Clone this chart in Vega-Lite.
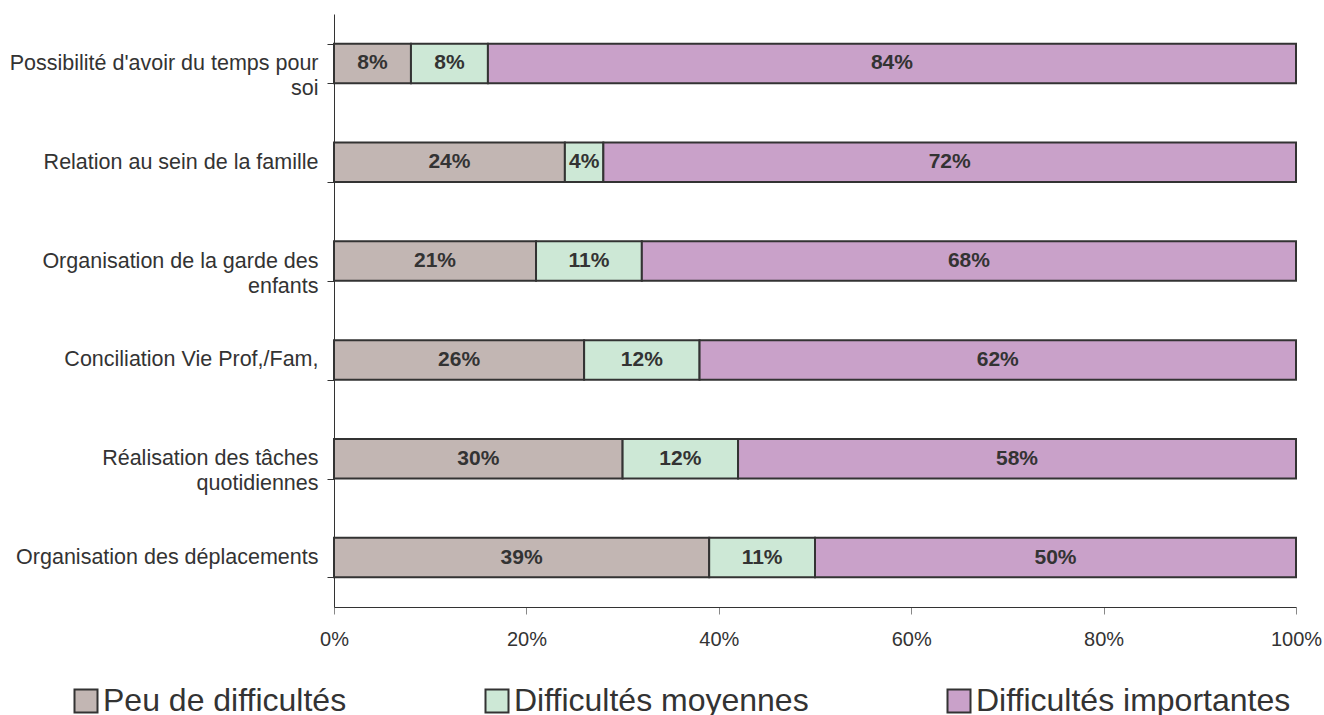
{
  "$schema": "https://vega.github.io/schema/vega-lite/v6.json",
  "width": 962,
  "height": 593,
  "autosize": {"type": "none"},
  "padding": {"left": 334, "top": 14, "right": 28, "bottom": 108},
  "background": "white",
  "config": {"font": "Liberation Sans", "view": {"stroke": null}},
  "data": {
    "values": [
      {"item": "Possibilité d'avoir du temps pour|soi", "level": "Peu de difficultés", "rank": 1, "pct": 0.08},
      {"item": "Possibilité d'avoir du temps pour|soi", "level": "Difficultés moyennes", "rank": 2, "pct": 0.08},
      {"item": "Possibilité d'avoir du temps pour|soi", "level": "Difficultés importantes", "rank": 3, "pct": 0.84},
      {"item": "Relation au sein de la famille", "level": "Peu de difficultés", "rank": 1, "pct": 0.24},
      {"item": "Relation au sein de la famille", "level": "Difficultés moyennes", "rank": 2, "pct": 0.04},
      {"item": "Relation au sein de la famille", "level": "Difficultés importantes", "rank": 3, "pct": 0.72},
      {"item": "Organisation de la garde des|enfants", "level": "Peu de difficultés", "rank": 1, "pct": 0.21},
      {"item": "Organisation de la garde des|enfants", "level": "Difficultés moyennes", "rank": 2, "pct": 0.11},
      {"item": "Organisation de la garde des|enfants", "level": "Difficultés importantes", "rank": 3, "pct": 0.68},
      {"item": "Conciliation Vie Prof,/Fam,", "level": "Peu de difficultés", "rank": 1, "pct": 0.26},
      {"item": "Conciliation Vie Prof,/Fam,", "level": "Difficultés moyennes", "rank": 2, "pct": 0.12},
      {"item": "Conciliation Vie Prof,/Fam,", "level": "Difficultés importantes", "rank": 3, "pct": 0.62},
      {"item": "Réalisation des tâches|quotidiennes", "level": "Peu de difficultés", "rank": 1, "pct": 0.30},
      {"item": "Réalisation des tâches|quotidiennes", "level": "Difficultés moyennes", "rank": 2, "pct": 0.12},
      {"item": "Réalisation des tâches|quotidiennes", "level": "Difficultés importantes", "rank": 3, "pct": 0.58},
      {"item": "Organisation des déplacements", "level": "Peu de difficultés", "rank": 1, "pct": 0.39},
      {"item": "Organisation des déplacements", "level": "Difficultés moyennes", "rank": 2, "pct": 0.11},
      {"item": "Organisation des déplacements", "level": "Difficultés importantes", "rank": 3, "pct": 0.50}
    ]
  },
  "transform": [
    {"stack": "pct", "groupby": ["item"], "sort": [{"field": "rank", "order": "ascending"}], "as": ["x0", "x1"]},
    {"calculate": "(datum.x0 + datum.x1) / 2", "as": "xm"}
  ],
  "encoding": {
    "y": {
      "field": "item",
      "type": "nominal",
      "title": null,
      "sort": [
        "Possibilité d'avoir du temps pour|soi",
        "Relation au sein de la famille",
        "Organisation de la garde des|enfants",
        "Conciliation Vie Prof,/Fam,",
        "Réalisation des tâches|quotidiennes",
        "Organisation des déplacements"
      ],
      "scale": {"paddingInner": 0.6, "paddingOuter": 0.3},
      "axis": {
        "labelExpr": "indexof(datum.label, '|') < 0 ? datum.label : [split(datum.label, '|')[0], pad(split(datum.label, '|')[1], indexof(datum.label, 'Possibilit') === 0 ? 26 : indexof(datum.label, 'Organisation') === 0 ? 24 : 20, '\u00a0', 'right')]",
        "labelFontSize": 21.5,
        "labelColor": "#333333",
        "labelLineHeight": 25,
        "labelLimit": 400,
        "labelBaseline": "middle",
        "labelPadding": 9,
        "tickBand": "extent",
        "tickSize": 7,
        "tickColor": "#333333",
        "domainColor": "#333333",
        "domainWidth": 1,
        "grid": false
      }
    }
  },
  "layer": [
    {
      "mark": {"type": "bar", "stroke": "#333333", "strokeWidth": 2},
      "encoding": {
        "x": {
          "field": "x0",
          "type": "quantitative",
          "title": null,
          "scale": {"domain": [0, 1], "nice": false},
          "axis": {
            "values": [0, 0.2, 0.4, 0.6, 0.8, 1],
            "format": ".0%",
            "labelFlush": false,
            "labelFontSize": 20,
            "labelColor": "#333333",
            "labelPadding": 15,
            "tickSize": 7,
            "tickColor": "#888888",
            "domainColor": "#333333",
            "grid": false
          }
        },
        "x2": {"field": "x1"},
        "color": {
          "field": "level",
          "type": "nominal",
          "scale": {
            "domain": ["Peu de difficultés", "Difficultés moyennes", "Difficultés importantes"],
            "range": ["#c2b6b3", "#cde8d6", "#c9a1c9"]
          },
          "legend": {
            "title": null,
            "orient": "none",
            "direction": "horizontal",
            "legendX": -264,
            "legendY": 671,
            "padding": 0,
            "symbolType": "square",
            "symbolSize": 529,
            "symbolStrokeColor": "#333333",
            "symbolStrokeWidth": 2,
            "labelFontSize": 32,
            "labelColor": "#333333",
            "labelOffset": 1,
            "labelLimit": 500,
            "columnPadding": 134
          }
        }
      }
    },
    {
      "mark": {"type": "text", "fontWeight": "bold", "fontSize": 21, "color": "#333333", "baseline": "middle"},
      "encoding": {
        "x": {"field": "xm", "type": "quantitative"},
        "text": {"field": "pct", "type": "quantitative", "format": ".0%"}
      }
    }
  ]
}
